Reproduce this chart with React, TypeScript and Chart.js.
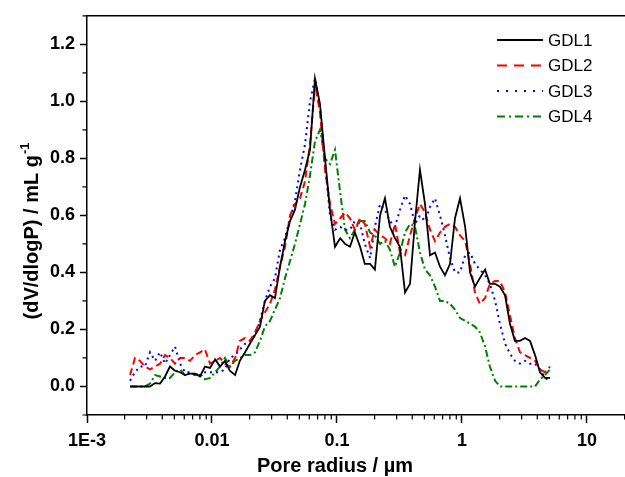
import React, { useEffect, useRef } from 'react';
import { Chart, registerables } from 'chart.js';

Chart.register(...registerables);

// Pore radius (µm) sampling points
const radius = [
  0.00221, 0.00242, 0.00265, 0.00291, 0.00319, 0.0035, 0.00384, 0.00421, 0.00461, 0.00506,
  0.00555, 0.00608, 0.00667, 0.00731, 0.00802, 0.00879, 0.00964, 0.0106, 0.0116, 0.0127,
  0.0139, 0.0153, 0.0167, 0.0184, 0.0201, 0.0221, 0.0242, 0.0265, 0.0291, 0.0319,
  0.035, 0.0384, 0.0421, 0.0461, 0.0506, 0.0555, 0.0608, 0.0667, 0.0731, 0.0802,
  0.0879, 0.0964, 0.106, 0.116, 0.127, 0.139, 0.153, 0.167, 0.184, 0.201,
  0.221, 0.242, 0.265, 0.291, 0.319, 0.35, 0.384, 0.421, 0.461, 0.506,
  0.555, 0.608, 0.667, 0.731, 0.802, 0.879, 0.964, 1.06, 1.16, 1.27,
  1.39, 1.53, 1.67, 1.84, 2.01, 2.21, 2.42, 2.65, 2.91, 3.19,
  3.5, 3.84, 4.21, 4.61, 5.06,
];

const gdl1 = [
  0, 0, 0, 0, 0, 0.012, 0.01, 0.035, 0.07, 0.055,
  0.05, 0.04, 0.045, 0.045, 0.035, 0.07, 0.065, 0.095, 0.07, 0.09,
  0.055, 0.04, 0.09, 0.12, 0.15, 0.18, 0.21, 0.3, 0.32, 0.31,
  0.42, 0.51, 0.58, 0.62, 0.7, 0.76, 0.83, 1.08, 0.99, 0.8,
  0.62, 0.49, 0.52, 0.5, 0.49, 0.54, 0.49, 0.43, 0.43, 0.41,
  0.6, 0.66, 0.56, 0.52, 0.49, 0.33, 0.36, 0.58, 0.76, 0.64,
  0.46, 0.47, 0.42, 0.39, 0.43, 0.59, 0.66, 0.56, 0.4, 0.35,
  0.38, 0.41, 0.36, 0.36, 0.35, 0.32, 0.22, 0.16, 0.16, 0.17,
  0.16, 0.11, 0.05, 0.03, 0.03,
];

const gdl2 = [
  0.04, 0.1, 0.09, 0.07, 0.06, 0.07, 0.08, 0.11, 0.1, 0.08,
  0.1, 0.1, 0.09, 0.11, 0.12, 0.13, 0.08, 0.09, 0.1, 0.08,
  0.07, 0.1, 0.16, 0.17, 0.16, 0.19, 0.23, 0.26, 0.29, 0.34,
  0.42, 0.49, 0.6, 0.64, 0.66, 0.72, 0.85, 1.06, 0.96, 0.76,
  0.64, 0.57, 0.59, 0.61, 0.59, 0.55, 0.59, 0.57, 0.49, 0.55,
  0.53, 0.52, 0.5, 0.57, 0.47, 0.46, 0.53, 0.59, 0.64, 0.61,
  0.55, 0.51, 0.54, 0.56, 0.57, 0.56, 0.53, 0.51, 0.43, 0.33,
  0.29, 0.31, 0.36, 0.37, 0.37, 0.33, 0.25, 0.17, 0.12, 0.11,
  0.1, 0.09, 0.06, 0.05, 0.07,
];

const gdl3 = [
  0.02, 0.05, 0.07, 0.07, 0.12, 0.09, 0.12, 0.08, 0.11, 0.14,
  0.08, 0.05, 0.05, 0.04, 0.04, 0.05, 0.05, 0.05, 0.05, 0.06,
  0.1, 0.11, 0.13, 0.15, 0.16, 0.18, 0.23, 0.3, 0.35, 0.38,
  0.48, 0.52, 0.59, 0.65, 0.76, 0.85, 1.0, 1.08, 0.98, 0.78,
  0.6, 0.55, 0.56, 0.55, 0.55, 0.58, 0.57, 0.5, 0.45, 0.56,
  0.64, 0.62, 0.58, 0.56, 0.62, 0.67, 0.64, 0.57, 0.6, 0.58,
  0.63, 0.66, 0.6, 0.53, 0.45, 0.4, 0.4, 0.46, 0.47, 0.43,
  0.41, 0.39, 0.36, 0.3, 0.22, 0.15, 0.115, 0.09, 0.08, 0.09,
  0.08, 0.08, 0.06, 0.03, 0.02,
];

const gdl4 = [
  0, 0, 0, 0, 0.01, 0.04, 0.035, 0.03, 0.03, 0.05,
  0.06, 0.04, 0.05, 0.04, 0.045, 0.025, 0.03, 0.05, 0.07, 0.1,
  0.07, 0.09, 0.1, 0.11, 0.11, 0.12, 0.16, 0.21, 0.23, 0.27,
  0.31, 0.38, 0.44, 0.5, 0.57, 0.64, 0.74, 0.86, 0.9, 0.8,
  0.78, 0.83, 0.68, 0.55, 0.52, 0.55, 0.58, 0.58, 0.54, 0.53,
  0.5, 0.51, 0.48, 0.42, 0.47, 0.54, 0.57, 0.56, 0.47, 0.41,
  0.39, 0.35, 0.3, 0.3, 0.29, 0.27, 0.24, 0.23, 0.22, 0.21,
  0.19, 0.14, 0.07, 0.02, 0, 0, 0, 0, 0, 0,
  0, 0, 0.025, 0.04, 0.06,
];

const seriesNames = ['GDL1', 'GDL2', 'GDL3', 'GDL4'];
const seriesValues = [gdl1, gdl2, gdl3, gdl4];
const seriesColors = ['#000000', '#ff0000', '#0000ff', '#008000'];
const seriesDashes = [[], [7, 4], [2, 4], [7, 3, 2, 3]];
const legendDashes = [[], [10, 7], [2, 7], [8, 4, 2, 4]];
const seriesWidths = [1.8, 2, 2, 2];

const xTickValues = [0.001, 0.01, 0.1, 1, 10];
const xTickLabels = ['1E-3', '0.01', '0.1', '1', '10'];
const yTickValues = [0, 0.2, 0.4, 0.6, 0.8, 1.0, 1.2];
const yTickLabels = ['0.0', '0.2', '0.4', '0.6', '0.8', '1.0', '1.2'];
const yMinorTicks = [-0.1, 0.1, 0.3, 0.5, 0.7, 0.9, 1.1, 1.3];

const xTitle = 'Pore radius / µm';
const yTitle = '(dV/dlogP) / mL g';
const yTitleSup = '-1';

const FONT = "'Liberation Sans', Arial, Helvetica, sans-serif";

const extrasPlugin = {
  id: 'extras',
  afterDraw(chart: any) {
    const ctx = chart.ctx;
    const area = chart.chartArea;
    const xs = chart.scales.x;
    const ys = chart.scales.y;
    ctx.save();
    ctx.strokeStyle = '#000';
    ctx.lineWidth = 1.5;
    // top frame
    ctx.beginPath();
    ctx.moveTo(area.left - 0.75, area.top);
    ctx.lineTo(area.right, area.top);
    ctx.stroke();
    // minor x ticks
    ctx.lineWidth = 1.2;
    ctx.beginPath();
    for (let d = 0.001; d < 100; d *= 10) {
      for (let m = 2; m <= 9; m++) {
        const v = d * m;
        if (v > xs.max) continue;
        const px = xs.getPixelForValue(v);
        ctx.moveTo(px, area.bottom);
        ctx.lineTo(px, area.bottom + 4.5);
      }
    }
    // minor y ticks
    for (const v of yMinorTicks) {
      const py = ys.getPixelForValue(v);
      ctx.moveTo(area.left, py);
      ctx.lineTo(area.left - 4.5, py);
    }
    ctx.stroke();

    // x title
    ctx.fillStyle = '#000';
    ctx.font = `bold 20px ${FONT}`;
    ctx.textAlign = 'center';
    ctx.textBaseline = 'middle';
    ctx.fillText(xTitle, 335, 466);

    // y title with superscript
    ctx.save();
    ctx.translate(32, 231);
    ctx.rotate(-Math.PI / 2);
    ctx.font = `bold 20px ${FONT}`;
    const w1 = ctx.measureText(yTitle).width;
    ctx.font = `bold 13px ${FONT}`;
    const w2 = ctx.measureText(yTitleSup).width;
    const total = w1 + w2 + 1;
    ctx.textAlign = 'left';
    ctx.font = `bold 20px ${FONT}`;
    ctx.fillText(yTitle, -total / 2, 0);
    ctx.font = `bold 13px ${FONT}`;
    ctx.fillText(yTitleSup, -total / 2 + w1 + 1, -7);
    ctx.restore();

    // legend
    const lx0 = 497;
    const lx1 = 543;
    const rowY = [40, 65.5, 91, 116.5];
    ctx.font = `17px ${FONT}`;
    ctx.textAlign = 'left';
    ctx.textBaseline = 'middle';
    seriesNames.forEach((name, i) => {
      ctx.save();
      ctx.strokeStyle = seriesColors[i];
      ctx.lineWidth = seriesWidths[i];
      ctx.setLineDash(legendDashes[i]);
      ctx.beginPath();
      ctx.moveTo(lx0, rowY[i]);
      ctx.lineTo(lx1, rowY[i]);
      ctx.stroke();
      ctx.restore();
      ctx.fillStyle = '#000';
      ctx.fillText(name, 548, rowY[i] + 1);
    });
    ctx.restore();
  },
};

export default function App() {
  const canvasRef = useRef<HTMLCanvasElement | null>(null);

  useEffect(() => {
    const canvas = canvasRef.current;
    if (!canvas) return;
    const datasets = seriesNames.map((name, i) => ({
      label: name,
      data: radius.map((r, j) => ({ x: r, y: seriesValues[i][j] })),
      borderColor: seriesColors[i],
      backgroundColor: seriesColors[i],
      borderWidth: seriesWidths[i],
      borderDash: seriesDashes[i],
      pointRadius: 0,
      tension: 0,
      fill: false,
    }));
    const tickFont = { family: FONT, size: 18, weight: 'bold' as const };
    const chart = new Chart(canvas, {
      type: 'line',
      data: { datasets },
      options: {
        responsive: false,
        animation: false,
        layout: { padding: { top: 13, right: 0, left: 0, bottom: 0 } },
        plugins: { legend: { display: false }, tooltip: { enabled: false } },
        scales: {
          x: {
            type: 'logarithmic',
            min: 0.001,
            max: 20.14,
            afterBuildTicks: (s: any) => {
              s.ticks = xTickValues.map((v) => ({ value: v }));
            },
            afterFit: (s: any) => {
              s.height = 62;
            },
            ticks: {
              autoSkip: false,
              maxRotation: 0,
              minRotation: 0,
              padding: 7,
              color: '#000',
              font: tickFont,
              callback: (v: any) => {
                const i = xTickValues.findIndex((t) => Math.abs(t - Number(v)) / t < 1e-6);
                return i >= 0 ? xTickLabels[i] : '';
              },
            },
            grid: {
              display: true,
              drawOnChartArea: false,
              drawTicks: true,
              tickLength: 8,
              tickColor: '#000',
              tickWidth: 1.5,
            },
            border: { display: true, color: '#000', width: 1.5 },
          },
          y: {
            type: 'linear',
            min: -0.1,
            max: 1.3,
            afterBuildTicks: (s: any) => {
              s.ticks = yTickValues.map((v) => ({ value: v }));
            },
            afterFit: (s: any) => {
              s.width = 87;
            },
            ticks: {
              autoSkip: false,
              padding: 5,
              color: '#000',
              font: tickFont,
              callback: (v: any) => {
                const i = yTickValues.findIndex((t) => Math.abs(t - Number(v)) < 1e-6);
                return i >= 0 ? yTickLabels[i] : '';
              },
            },
            grid: {
              display: true,
              drawOnChartArea: false,
              drawTicks: true,
              tickLength: 7,
              tickColor: '#000',
              tickWidth: 1.5,
            },
            border: { display: true, color: '#000', width: 1.5 },
          },
        },
      },
      plugins: [extrasPlugin],
    } as any);
    return () => chart.destroy();
  }, []);

  return (
    <div style={{ position: 'fixed', left: 0, top: 0, width: 625, height: 477, background: '#fff' }}>
      <canvas ref={canvasRef} width={625} height={477} style={{ width: 625, height: 477, display: 'block' }} />
    </div>
  );
}
